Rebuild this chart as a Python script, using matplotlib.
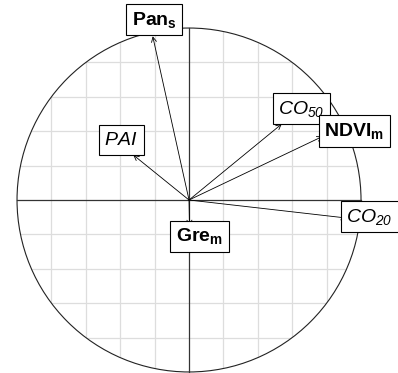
import numpy as np
import matplotlib.pyplot as plt
from matplotlib import font_manager
from matplotlib.patches import Circle

# Variable coordinates on the first two dimensions
variables = ['Pan_s', 'PAI', 'CO_50', 'NDVI_m', 'CO_20', 'Gre_m']
dim1 = [-0.211, -0.324, 0.539, 0.777, 0.917, 0.003]
dim2 = [0.952, 0.262, 0.442, 0.370, -0.105, -0.151]
labels = [r'$\mathbf{Pan}_{\mathbf{s}}$', r'$\mathit{PAI}$', r'$\mathit{CO}_{\mathit{50}}$',
          r'$\mathbf{NDVI}_{\mathbf{m}}$', r'$\mathit{CO}_{\mathit{20}}$', r'$\mathbf{Gre}_{\mathbf{m}}$']

# Where the (repelled) labels sit
label_x = [-0.203, -0.395, 0.654, 0.962, 1.05, 0.061]
label_y = [1.049, 0.349, 0.532, 0.401, -0.096, -0.212]

grid_ticks = [-0.8, -0.6, -0.4, -0.2, 0.2, 0.4, 0.6, 0.8]

# Narrow font if we have it
installed = {f.name for f in font_manager.fontManager.ttflist}
font = 'Liberation Sans Narrow' if 'Liberation Sans Narrow' in installed else 'Liberation Sans'
plt.rcParams['mathtext.fontset'] = 'custom'
# digits inside \mathit fall back to rm, so make rm italic too
plt.rcParams['mathtext.rm'] = font + ':italic'
plt.rcParams['mathtext.sf'] = font
plt.rcParams['mathtext.it'] = font + ':italic'
plt.rcParams['mathtext.bf'] = font + ':bold'

fig = plt.figure(figsize=(3.98, 3.73), dpi=100)
ax = fig.add_axes([0, 0, 1, 1])
ax.set_xlim(-1.099, 1.215)
ax.set_ylim(-1.006, 1.163)
ax.axis('off')

# Grid, clipped to the unit circle
clip = Circle((0, 0), 1, transform=ax.transData, fill=False)
for g in grid_ticks:
    l1, = ax.plot([g, g], [-1, 1], color='#dddddd', lw=0.9, zorder=1)
    l2, = ax.plot([-1, 1], [g, g], color='#dddddd', lw=0.9, zorder=1)
    l1.set_clip_path(clip)
    l2.set_clip_path(clip)

ax.add_patch(Circle((0, 0), 1, fill=False, ec='#222222', lw=0.8, zorder=2))
ax.plot([-1, 1], [0, 0], color='#333333', lw=0.9, zorder=2)
ax.plot([0, 0], [-1, 1], color='#333333', lw=0.9, zorder=2)

# Arrows
for x, y in zip(dim1, dim2):
    ax.annotate('', xy=(x, y), xytext=(0, 0),
                arrowprops=dict(arrowstyle='->, head_length=0.35, head_width=0.18',
                                mutation_scale=10, lw=0.6, color='black',
                                shrinkA=0, shrinkB=0),
                zorder=3)

# Boxed labels
for lab, lx, ly in zip(labels, label_x, label_y):
    ax.text(lx, ly, lab, fontsize=14, ha='center', va='center', zorder=4,
            bbox=dict(boxstyle='square,pad=0.3', fc='white', ec='black', lw=0.8))

fig.savefig('out.png', dpi=100)
